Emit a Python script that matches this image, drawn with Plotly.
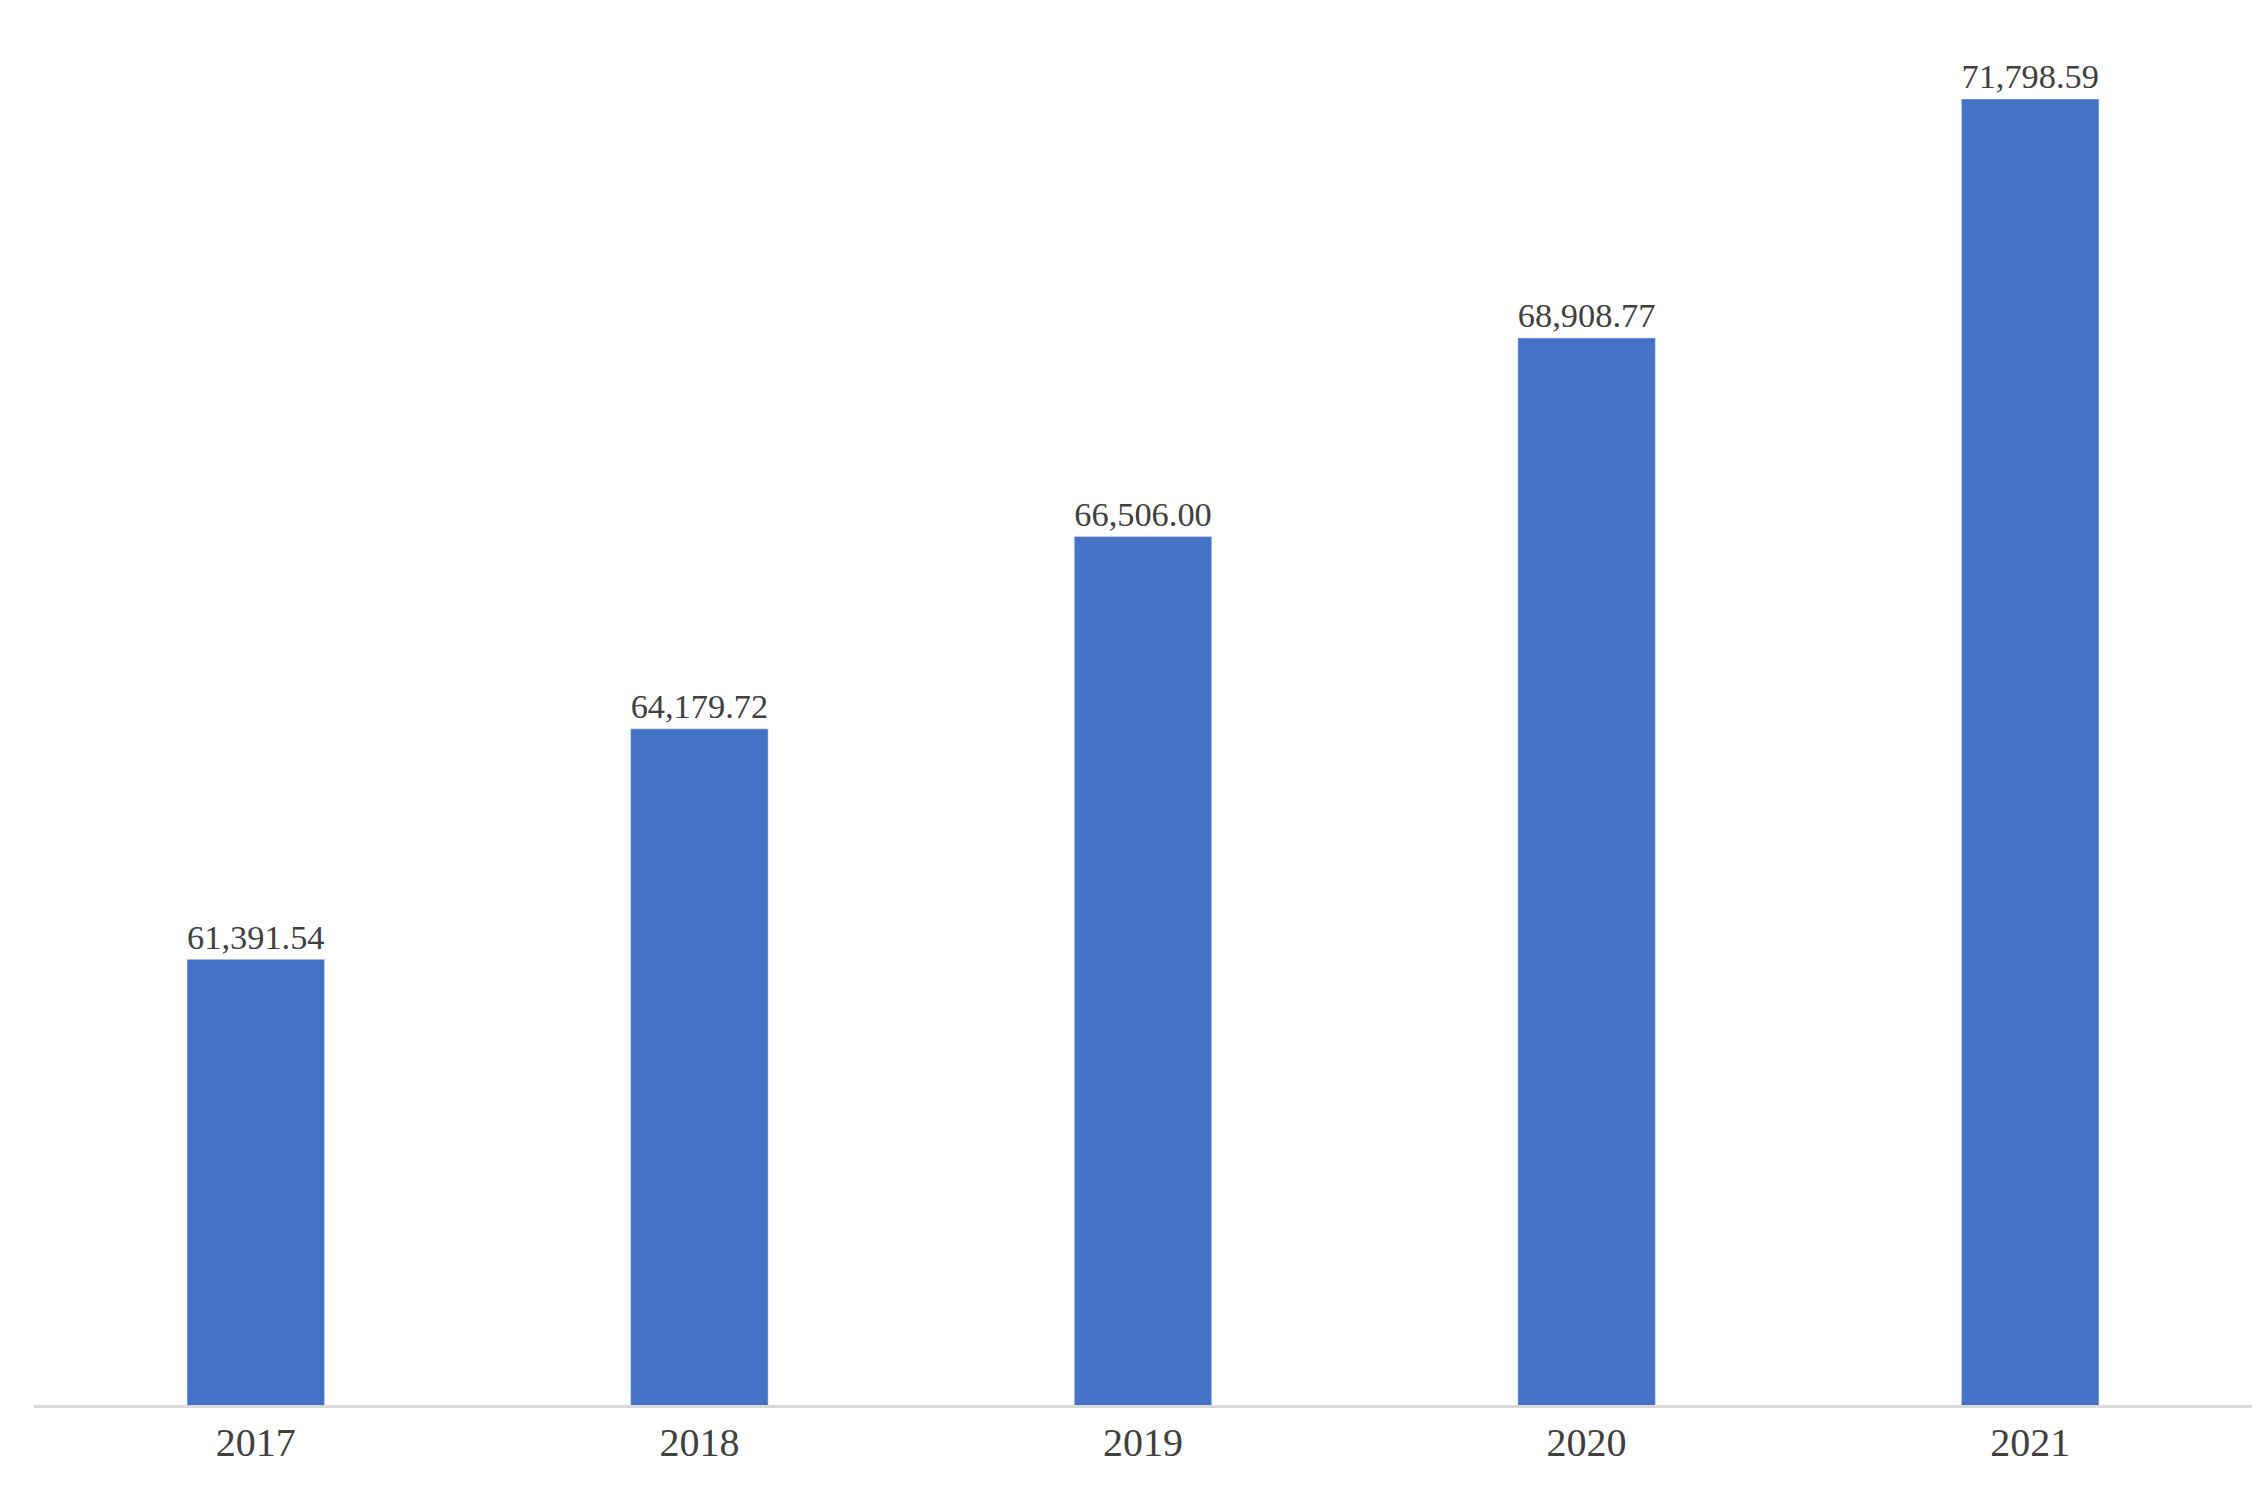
import plotly.graph_objects as go

years = ["2017", "2018", "2019", "2020", "2021"]
values = [61391.54, 64179.72, 66506.00, 68908.77, 71798.59]
labels = ["61,391.54", "64,179.72", "66,506.00", "68,908.77", "71,798.59"]

fig = go.Figure(go.Bar(
    x=years, y=values, text=labels, textposition="outside", cliponaxis=False,
    marker_color="#4472C4", textfont=dict(family="Liberation Serif", size=40, color="#404040"),
))
fig.update_layout(
    width=2263, height=1495, plot_bgcolor="white", paper_bgcolor="white",
    margin=dict(l=26, r=19, t=0, b=98), bargap=0.69, showlegend=False,
    font=dict(family="Liberation Serif", size=40, color="#404040"),
)
fig.update_yaxes(range=[56000, 72900], visible=False)
fig.update_xaxes(showline=True, linecolor="#D9D9D9", linewidth=3, ticks="",
                 tickfont=dict(family="Liberation Serif", size=40, color="#404040"))
fig.write_html("out.html")
